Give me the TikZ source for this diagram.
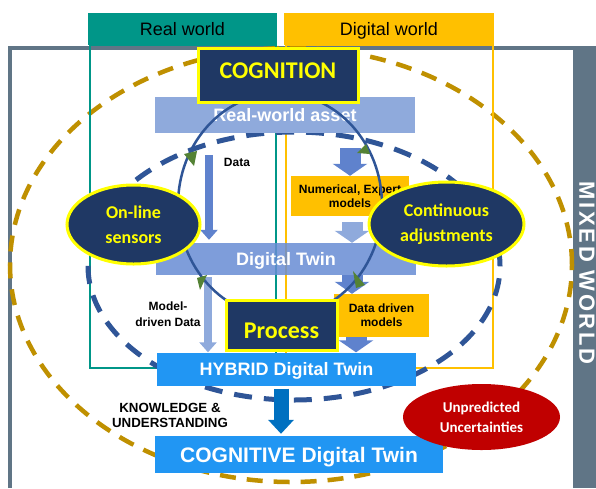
\documentclass[tikz,border=0pt]{standalone}
\usepackage{fontspec}
\setmainfont{Liberation Sans}
\newfontfamily\calfont{Carlito}
\usepackage{tikz}
\usetikzlibrary{arrows.meta}
\usetikzlibrary{shapes.geometric}
\definecolor{mgrey}{RGB}{96,117,134}
\definecolor{rteal}{RGB}{0,150,136}
\definecolor{dgold}{RGB}{255,192,0}
\definecolor{cnavy}{RGB}{31,56,100}
\definecolor{cyell}{RGB}{255,255,0}
\definecolor{ablue}{RGB}{143,170,220}
\definecolor{tblue}{RGB}{104,140,212}
\definecolor{arblue}{RGB}{95,130,205}
\definecolor{hblue}{RGB}{33,150,243}
\definecolor{kblue}{RGB}{0,112,192}
\definecolor{ured}{RGB}{192,0,0}
\definecolor{ochre}{RGB}{191,144,0}
\definecolor{dnavy}{RGB}{47,85,151}
\definecolor{tipgreen}{RGB}{84,130,53}

\begin{document}
\begin{tikzpicture}[x=1pt,y=-1pt,>=Triangle,
  bar/.style={inner sep=0pt,text=white,text depth=0pt,font=\bfseries\fontsize{18pt}{20pt}\selectfont},
  orangebox/.style={fill=dgold,inner sep=0pt,align=center,font=\bfseries\fontsize{12pt}{14pt}\selectfont},
  yellowbox/.style={fill=cnavy,draw=cyell,line width=3pt,inner sep=0pt},
  boxtext/.style={inner sep=0pt,text=cyell,font=\calfont\bfseries\fontsize{24pt}{26pt}\selectfont},
  navyoval/.style={ellipse,fill=cnavy,draw=cyell,line width=3pt,inner sep=0pt,text=cyell,align=center,font=\calfont\bfseries\fontsize{18pt}{25pt}\selectfont}]
  \tikzstyle{header}=[inner sep=0pt,text depth=0pt,minimum height=32pt,font=\fontsize{18pt}{20pt}\selectfont]
  \tikzstyle{smalltext}=[inner sep=0pt,align=center,font=\bfseries\fontsize{12pt}{16pt}\selectfont]
  \tikzstyle{slim arrow}=[line width=8pt,-{Triangle[length=10pt,width=17pt]}]
  \tikzstyle{fat arrow}=[line width=21pt,-{Triangle[length=12pt,width=34pt]}]

  \useasboundingbox (0,0) rectangle (596,488);
  \fill[white] (0,0) rectangle (596,488);

  % mixed world frame
  \fill[mgrey] (573,46) rectangle (596,488);
  \draw[mgrey,line width=3.5pt] (10,488) -- (10,48) -- (573,48);
  \node[rotate=-90,text=white,inner sep=0pt,font=\bfseries\fontsize{22pt}{24pt}\selectfont\addfontfeature{LetterSpace=12}] (mixed) at (587,273) {MIXED WORLD};

  % outer dashed ring
  \draw[ochre,line width=4.5pt,dash pattern=on 16pt off 11pt] (291,265) ellipse [x radius=281pt,y radius=217pt];

  % real and digital world
  \node[header,fill=rteal,minimum width=189pt] (realw) at (182.5,29) {Real world};
  \node[header,fill=dgold,minimum width=210pt] (digw) at (389,29) {Digital world};
  \draw[rteal,line width=2.5pt] (90,45) rectangle (276,368);
  \draw[dgold,line width=2.5pt] (286,45) rectangle (493,368);

  % inner dashed ring
  \draw[dnavy,line width=5pt,dash pattern=on 18pt off 12pt] (294,266) ellipse [x radius=206pt,y radius=134pt];

  % twin bars
  \node[bar,fill=ablue,minimum width=260pt,minimum height=36pt] (asset) at (285,115) {Real-world asset};
  \node[orangebox,minimum width=118pt,minimum height=40pt] (num) at (350,196) {Numerical, Expert\\models};
  \node[bar,fill=tblue,fill opacity=0.85,text opacity=1,minimum width=260pt,minimum height=32pt] (dtwin) at (286,259) {Digital Twin};
  \node[orangebox,minimum width=95pt,minimum height=43pt] (ddm) at (381.5,315.5) {Data driven\\models};
  \node[bar,fill=hblue,minimum width=259pt,minimum height=33pt] (hybrid) at (286.5,369) {HYBRID Digital Twin};
  \node[bar,fill=hblue,minimum width=288pt,minimum height=37pt,font=\bfseries\fontsize{21pt}{23pt}\selectfont] (cdt) at (299,454.5) {COGNITIVE Digital Twin};

  % flows
  \draw[slim arrow,arblue,shorten <=22pt,shorten >=3pt] ([xshift=-76pt]asset.south) -- ([xshift=-77pt]dtwin.north);
  \draw[slim arrow,ablue,shorten <=2pt] ([xshift=-78pt]dtwin.south) -- ([xshift=-78.5pt]hybrid.north);
  \draw[fat arrow,arblue,shorten <=15pt] (num.north |- asset.south) -- (num.north);
  \draw[fat arrow,ablue,shorten <=6pt] ([xshift=2pt]num.south) -- ([xshift=66pt]dtwin.north);
  \draw[fat arrow,arblue] ([xshift=66pt]dtwin.south) -- ([xshift=-29.5pt]ddm.north);
  \draw[fat arrow,arblue] ([xshift=-25.5pt]ddm.south) -- ([xshift=69.5pt]hybrid.north);
  \draw[line width=15pt,kblue,-{Triangle[length=14pt,width=25pt]},shorten <=3pt,shorten >=2pt] ([xshift=-5.5pt]hybrid.south) -- ([xshift=-18pt]cdt.north);

  % cognition / process cycle
  \draw[dnavy,line width=2.5pt] (280,205) ellipse [x radius=102pt,y radius=112pt];
  \fill[tipgreen] (184,154) -- (197,151) -- (194,166) -- cycle;
  \fill[tipgreen] (357,153) -- (366,144) -- (370,154) -- cycle;
  \fill[tipgreen] (353,271) -- (365,285) -- (356,288) -- cycle;
  \fill[tipgreen] (197,278) -- (207,275) -- (200,290) -- cycle;

  \node[yellowbox,minimum width=160pt,minimum height=54pt,label={[boxtext,yshift=4pt]center:COGNITION}] (cog) at (278,75) {};
  \node[yellowbox,minimum width=111pt,minimum height=50pt,label={[boxtext,yshift=-6pt]center:Process}] (proc) at (281.5,325) {};

  \node[navyoval,minimum width=133pt,minimum height=79pt] (sensors) at (133.5,224.5) {On-line\\sensors};
  \node[navyoval,minimum width=155pt,minimum height=84pt] (adjust) at (446.5,224) {Continuous\\adjustments};
  \node[ellipse,fill=ured,text=white,inner sep=0pt,align=center,minimum width=157pt,minimum height=66pt,font=\calfont\bfseries\fontsize{15pt}{20pt}\selectfont] (uncert) at (481.5,417) {Unpredicted\\Uncertainties};

  % small labels
  \node[smalltext] (datalbl) at (237,162) {Data};
  \node[smalltext] (mdlbl) at (168,314) {Model-\\driven Data};
  \node[smalltext,font=\bfseries\fontsize{13.3pt}{15pt}\selectfont] (know) at (170,415) {KNOWLEDGE \&\\UNDERSTANDING};
\end{tikzpicture}
\end{document}
